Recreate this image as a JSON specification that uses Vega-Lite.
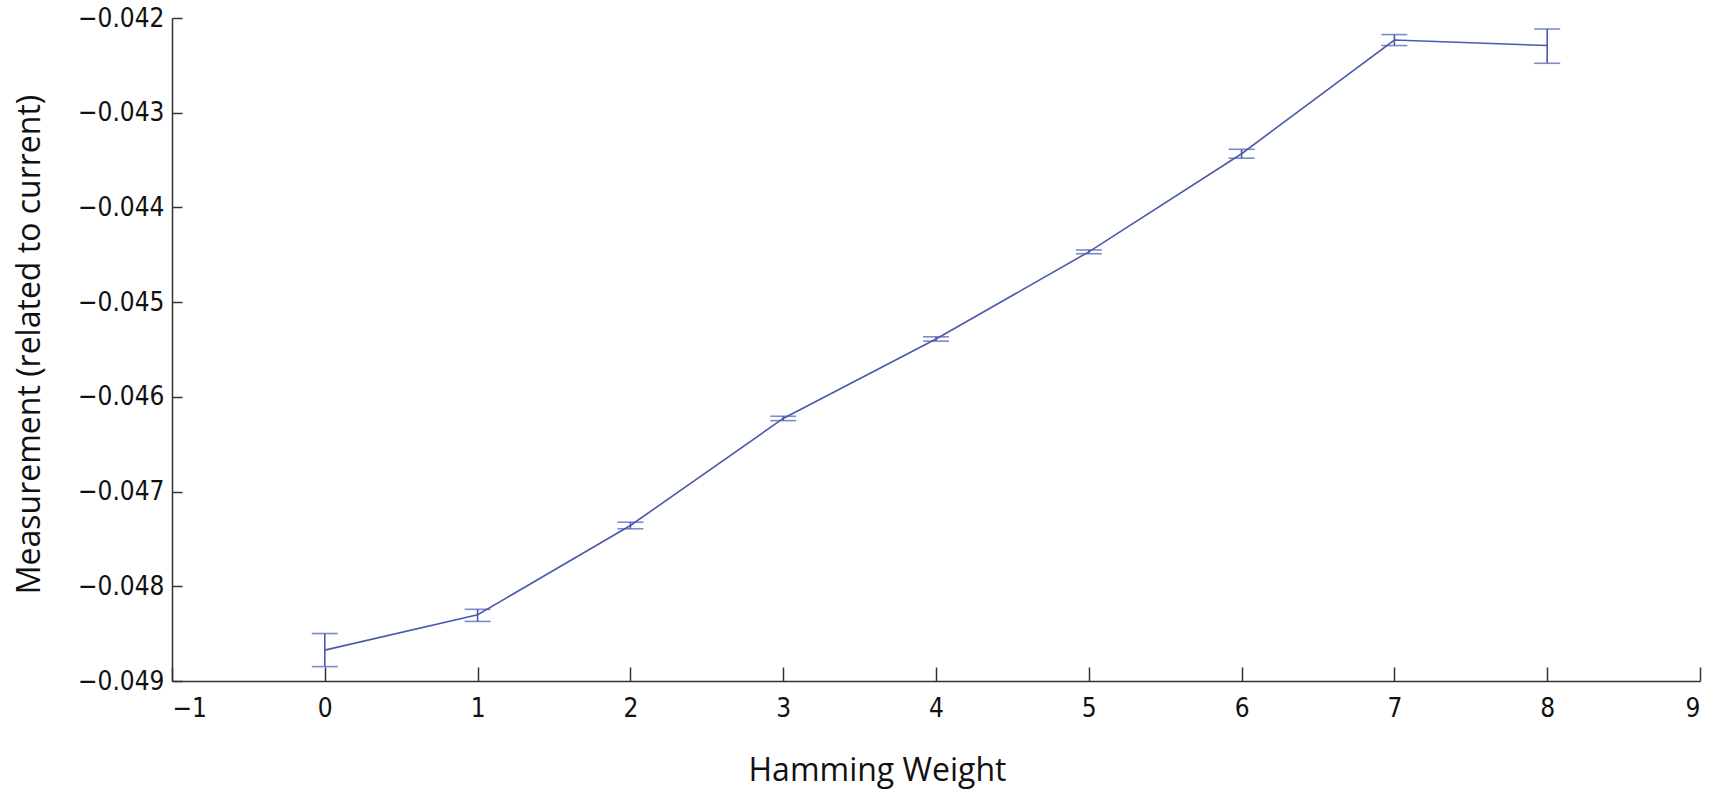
{
  "$schema": "https://vega.github.io/schema/vega-lite/v6.json",
  "autosize": {"type": "none"},
  "width": 1528,
  "height": 663,
  "padding": {"left": 172, "top": 18, "right": 29, "bottom": 108},
  "background": "white",
  "config": {
    "view": {"stroke": null},
    "axis": {
      "grid": false,
      "domainColor": "#333333",
      "tickColor": "#333333",
      "domainWidth": 1.5,
      "tickWidth": 1.5,
      "labelFont": "DejaVu Sans Condensed",
      "labelFontSize": 26,
      "labelColor": "#111111",
      "titleFont": "Open Sans",
      "titleFontSize": 32,
      "titleFontWeight": "normal",
      "titleColor": "#111111"
    }
  },
  "data": {
    "values": [
      {"hw": 0, "mean": -0.048674, "lo": -0.048848, "hi": -0.048499},
      {"hw": 1, "mean": -0.048301, "lo": -0.048371, "hi": -0.048243},
      {"hw": 2, "mean": -0.047358, "lo": -0.047393, "hi": -0.047323},
      {"hw": 3, "mean": -0.046228, "lo": -0.046251, "hi": -0.046205},
      {"hw": 4, "mean": -0.045389, "lo": -0.045412, "hi": -0.045366},
      {"hw": 5, "mean": -0.044469, "lo": -0.044489, "hi": -0.044449},
      {"hw": 6, "mean": -0.043433, "lo": -0.043480, "hi": -0.043386},
      {"hw": 7, "mean": -0.042233, "lo": -0.042291, "hi": -0.042175},
      {"hw": 8, "mean": -0.042291, "lo": -0.042478, "hi": -0.042116}
    ]
  },
  "encoding": {
    "x": {
      "field": "hw", "type": "quantitative",
      "scale": {"domain": [-1, 9], "nice": false, "zero": false},
      "axis": {
        "title": "Hamming Weight",
        "values": [-1, 0, 1, 2, 3, 4, 5, 6, 7, 8, 9],
        "format": "d",
        "tickSize": -14,
        "labelPadding": 28,
        "titleX": 705,
        "titleY": 89,
        "titleBaseline": "middle"
      }
    }
  },
  "layer": [
    {
      "mark": {"type": "line", "color": "#4a5aae", "strokeWidth": 1.6},
      "encoding": {
        "y": {
          "field": "mean", "type": "quantitative",
          "title": "Measurement (related to current)",
          "scale": {"domain": [-0.049, -0.042], "nice": false, "zero": false},
          "axis": {
            "values": [-0.049, -0.048, -0.047, -0.046, -0.045, -0.044, -0.043, -0.042],
            "format": ".3f",
            "tickSize": -10,
            "labelPadding": 18,
            "titleX": -143,
            "titleY": 326,
            "titleAngle": -90,
            "titleBaseline": "middle"
          }
        }
      }
    },
    {
      "mark": {"type": "errorbar", "color": "#4a5aae", "ticks": {"size": 26, "thickness": 1.6}, "rule": {"strokeWidth": 1.6}},
      "encoding": {
        "y": {"field": "lo", "type": "quantitative", "title": "Measurement (related to current)"},
        "y2": {"field": "hi"}
      }
    }
  ]
}
